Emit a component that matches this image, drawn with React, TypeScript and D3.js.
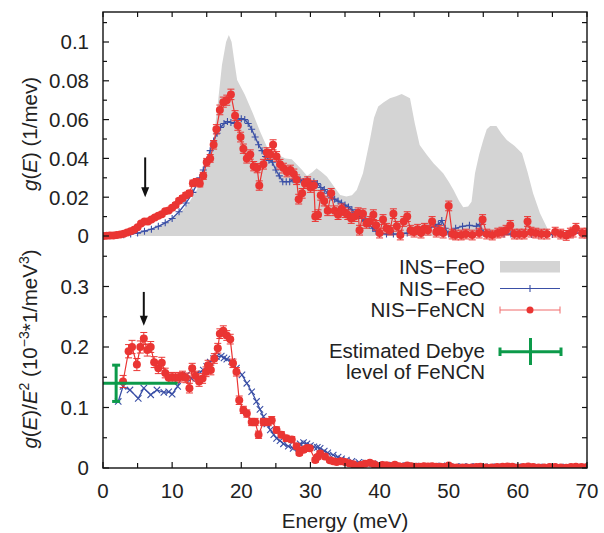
import React from "react";
import * as d3 from "d3";

// ---------- data ----------
// INS-FeO (gray area, top panel): [E, g]
const insFeO: [number, number][] = [
  [4.5, 0], [5.4, 0.0015], [6.8, 0.003], [8.2, 0.0048], [9.6, 0.008], [11.1, 0.0118], [12.4, 0.017],
  [13.55, 0.0237], [14.8, 0.035], [16.0, 0.05], [16.6, 0.068], [17.2, 0.088], [17.8, 0.1], [18.2, 0.1036],
  [18.6, 0.1], [19.0, 0.09], [19.4, 0.0804], [20.5, 0.073], [21.7, 0.063], [22.7, 0.054], [23.7, 0.046],
  [25.2, 0.042], [26.4, 0.04], [27.3, 0.0395], [28.0, 0.037], [28.8, 0.034], [29.5, 0.031], [30.3, 0.033],
  [30.9, 0.0349], [31.6, 0.033], [32.4, 0.0306], [33.3, 0.026], [34.3, 0.0211], [35.2, 0.0203],
  [36.0, 0.021], [36.7, 0.0237], [37.6, 0.0323], [38.6, 0.0495], [39.2, 0.061], [39.8, 0.0667],
  [40.6, 0.069], [41.5, 0.071], [42.4, 0.072], [43.2, 0.0732], [44.4, 0.071], [45.1, 0.058], [45.8, 0.0469],
  [46.8, 0.042], [47.8, 0.0375], [49.2, 0.0323], [50.0, 0.028], [50.7, 0.0237], [51.5, 0.018],
  [52.1, 0.0148], [52.8, 0.0152], [53.3, 0.0177], [53.8, 0.0323], [54.4, 0.042], [55.0, 0.0495],
  [55.5, 0.055], [56.0, 0.0567], [56.9, 0.0567], [57.6, 0.053], [58.4, 0.0495], [59.5, 0.0465],
  [60.6, 0.0426], [61.4, 0.033], [62.2, 0.022], [63.2, 0.0117], [64.4, 0.003], [65.2, 0],
];

// NIS-FeO (blue, top panel): [E, g]
const nisFeOTop: [number, number][] = [
  [0, 0], [1, 0.0001], [2, 0.0003], [3, 0.0006], [4, 0.001], [5, 0.0015], [6, 0.0025], [7, 0.0035],
  [8, 0.005], [9, 0.0068], [10, 0.009], [11, 0.0125], [12, 0.017], [13, 0.0225], [14, 0.03], [14.5, 0.034],
  [15, 0.039], [15.5, 0.044], [16, 0.049], [16.5, 0.053], [17, 0.056], [17.5, 0.058], [18, 0.059],
  [18.5, 0.0585], [19, 0.058], [19.5, 0.0595], [20, 0.0605], [20.5, 0.06], [21, 0.058], [21.5, 0.055],
  [22, 0.051], [22.5, 0.047], [23, 0.044], [23.5, 0.041], [24, 0.039], [24.5, 0.038], [25, 0.034],
  [25.5, 0.031], [26, 0.028], [26.5, 0.028], [27, 0.028], [27.5, 0.029], [28, 0.03], [28.5, 0.029],
  [29, 0.028], [29.5, 0.029], [30, 0.028], [30.5, 0.028], [31, 0.027], [31.5, 0.025], [32, 0.024],
  [32.5, 0.022], [33, 0.02], [33.5, 0.019], [34, 0.018], [34.5, 0.017], [35, 0.016], [35.5, 0.015],
  [36, 0.0135], [36.5, 0.012], [37, 0.0105], [37.5, 0.009], [38, 0.008], [38.5, 0.006], [39, 0.004],
  [39.5, 0.0025], [40, 0.0015], [41, 0.001], [42, 0.001], [43, 0.001], [44, 0.0015], [45, 0.002],
  [46, 0.003], [47, 0.004], [48, 0.005], [48.5, 0.006], [49, 0.008], [49.5, 0.004], [50, 0.001],
  [51, 0.004], [52, 0.005], [53, 0.0055], [54, 0.005], [54.5, 0.006], [55, 0.0015], [56, 0.001],
  [57, 0.0015], [58, 0.001], [59, 0.001], [60, 0.001], [61, 0.0008], [62, 0.0008], [63, 0.001],
  [64, 0.0008], [65, 0.0008], [66, 0.001], [67, 0.001], [68, 0.0015], [69, 0.0015], [70, 0.0015],
];

// NIS-FeNCN (red, top panel): [E, g, error]
const nisFeNCNTop: [number, number, number][] = [
  [0, 0, 0.0004], [0.5, 0.0001, 0.0004], [1, 0.0002, 0.0004], [1.5, 0.0003, 0.0004], [2, 0.0005, 0.0004],
  [2.5, 0.0008, 0.0004], [3, 0.0012, 0.0005], [3.5, 0.0018, 0.0005], [4, 0.0025, 0.0005],
  [4.5, 0.0032, 0.0006], [5, 0.0045, 0.0006], [5.5, 0.0065, 0.0007], [6, 0.0075, 0.0008],
  [6.5, 0.0075, 0.0008], [7, 0.0085, 0.0009], [7.5, 0.0095, 0.0009], [8, 0.0105, 0.001],
  [8.5, 0.0112, 0.001], [9, 0.0128, 0.001], [9.5, 0.0132, 0.001], [10, 0.0145, 0.0011],
  [10.5, 0.016, 0.0012], [11, 0.0182, 0.0012], [11.5, 0.0195, 0.0013], [12, 0.021, 0.0014],
  [12.5, 0.022, 0.0015], [13, 0.0272, 0.0016], [13.5, 0.028, 0.0016], [14, 0.027, 0.0017],
  [14.5, 0.031, 0.0018], [15, 0.038, 0.002], [15.5, 0.04, 0.002], [16, 0.047, 0.0022],
  [16.4, 0.055, 0.0024], [16.9, 0.065, 0.0025], [17.4, 0.069, 0.0026], [17.9, 0.07, 0.0026],
  [18.5, 0.073, 0.0027], [19.1, 0.062, 0.0026], [19.5, 0.057, 0.0025], [19.9, 0.051, 0.0025],
  [20.3, 0.045, 0.0024], [20.8, 0.04, 0.0024], [21.3, 0.042, 0.0024], [21.8, 0.036, 0.0024],
  [22.3, 0.035, 0.0024], [22.6, 0.026, 0.0024], [23.2, 0.037, 0.0025], [23.7, 0.043, 0.0025],
  [24.2, 0.042, 0.0025], [24.6, 0.047, 0.0026], [25.1, 0.041, 0.0025], [25.6, 0.037, 0.0025],
  [26.1, 0.035, 0.0025], [26.6, 0.033, 0.0025], [27.1, 0.034, 0.0025], [27.6, 0.032, 0.0025],
  [28.0, 0.029, 0.0025], [28.3, 0.019, 0.0025], [28.8, 0.022, 0.0025], [29.2, 0.027, 0.0025],
  [29.6, 0.028, 0.0025], [30.0, 0.025, 0.0025], [30.5, 0.026, 0.0025], [30.7, 0.01, 0.0025],
  [31.1, 0.011, 0.0025], [31.5, 0.021, 0.0025], [32.0, 0.018, 0.0025], [32.5, 0.013, 0.0025],
  [33.0, 0.022, 0.0025], [33.5, 0.013, 0.0025], [34.0, 0.011, 0.0025], [34.5, 0.014, 0.0025],
  [35.0, 0.012, 0.0025], [35.4, 0.011, 0.0025], [35.9, 0.009, 0.0025], [36.4, 0.01, 0.0025],
  [36.9, 0.012, 0.0025], [37.1, 0.003, 0.0025], [37.6, 0.0115, 0.0025], [38.1, 0.0065, 0.0025],
  [38.6, 0.0075, 0.0025], [39.1, 0.011, 0.0025], [39.5, 0.0055, 0.0025], [40.0, 0.0015, 0.0025],
  [40.5, 0.0085, 0.0025], [41.0, 0.004, 0.0025], [41.5, 0.003, 0.0025], [42.0, 0.0115, 0.0025],
  [42.5, 0.005, 0.0025], [43.0, 0.0005, 0.0025], [43.5, 0.0075, 0.0025], [44.0, 0.01, 0.0025],
  [44.5, 0.003, 0.0025], [45.0, 0.002, 0.0025], [45.5, 0.0035, 0.0025], [46.0, 0.0015, 0.0025],
  [46.5, 0.004, 0.0025], [47.0, 0.003, 0.0025], [47.6, 0.0075, 0.0025], [48.2, 0.002, 0.0025],
  [48.7, 0.003, 0.0025], [49.2, 0.0015, 0.0025], [50.0, 0.0155, 0.0025], [50.5, 0.001, 0.0025],
  [51.0, 0.0005, 0.0025], [51.8, 0.0005, 0.0025], [52.5, 0.001, 0.0025], [53.4, 0.0005, 0.0025],
  [54.4, 0.0015, 0.0025], [54.9, 0.0085, 0.0025], [55.5, 0.001, 0.0025], [56.3, 0.0005, 0.0025],
  [57.1, 0.0015, 0.0025], [57.7, 0.002, 0.0025], [58.3, 0.003, 0.0025], [58.9, 0.0055, 0.0025],
  [59.5, 0.001, 0.0025], [60.2, 0.001, 0.0025], [60.9, 0.001, 0.0025], [61.4, 0.0075, 0.0025],
  [61.9, 0.002, 0.0025], [62.6, 0.0015, 0.0025], [63.4, 0.001, 0.0025], [64.2, 0.001, 0.0025],
  [65.4, 0.002, 0.0025], [66.2, 0.001, 0.0025], [67.0, 0.0003, 0.0025], [67.6, 0.0015, 0.0025],
  [68.0, 0.002, 0.0025], [68.4, 0.004, 0.0025], [69.3, 0.0015, 0.0025], [70.0, 0.0015, 0.0025],
];

// NIS-FeO (blue, bottom panel g/E^2): [E, value]
const nisFeOBot: [number, number][] = [
  [2.2, 0.11], [2.9, 0.135], [3.9, 0.129], [5.1, 0.115], [5.9, 0.132], [6.9, 0.121], [7.8, 0.129],
  [8.8, 0.125], [9.5, 0.126], [10.0, 0.122], [10.8, 0.135], [11.4, 0.151], [12.1, 0.154], [12.8, 0.148],
  [13.5, 0.156], [14.5, 0.162], [15.0, 0.168], [15.5, 0.175], [16.0, 0.181], [16.4, 0.184], [17.1, 0.185],
  [17.5, 0.182], [17.9, 0.18], [18.6, 0.176], [19.3, 0.165], [20.1, 0.154], [20.8, 0.14], [21.5, 0.126],
  [22.2, 0.11], [22.7, 0.097], [23.2, 0.085], [23.7, 0.073], [24.2, 0.063], [24.7, 0.055], [25.1, 0.049],
  [25.6, 0.045], [26.1, 0.04], [26.8, 0.036], [27.5, 0.0325], [28.0, 0.035], [28.5, 0.04], [29.0, 0.042],
  [29.5, 0.04], [30.0, 0.037], [30.5, 0.035], [31.0, 0.034], [31.4, 0.0325], [32.0, 0.028], [32.5, 0.025],
  [33.3, 0.0215], [34.0, 0.018], [34.5, 0.015], [35.2, 0.013], [36.0, 0.011], [37.0, 0.0095],
  [38.0, 0.0085], [39.0, 0.007], [40.0, 0.006], [41.0, 0.005], [42.0, 0.0045], [43.0, 0.004],
  [44.0, 0.0035], [45.0, 0.003], [46.0, 0.003], [47.0, 0.0028], [48.0, 0.0028], [49.0, 0.0035],
  [50.0, 0.0025], [51.0, 0.0025], [52.0, 0.0025], [53.0, 0.0025], [54.0, 0.0025], [55.0, 0.002],
  [56.0, 0.002], [57.0, 0.002], [58.0, 0.002], [59.0, 0.0018], [60.0, 0.0018], [61.0, 0.0018],
  [62.0, 0.0015], [63.0, 0.0015], [64.0, 0.0015], [65.0, 0.0015], [66.0, 0.0015], [67.0, 0.0015],
  [68.0, 0.0015], [69.0, 0.0015], [70.0, 0.0015],
];

// NIS-FeNCN (red, bottom panel g/E^2): [E, value, error]
const nisFeNCNBot: [number, number, number][] = [
  [2.9, 0.143, 0.01], [3.7, 0.193, 0.011], [4.2, 0.2, 0.011], [4.9, 0.171, 0.01], [5.4, 0.2, 0.01],
  [5.9, 0.214, 0.01], [6.4, 0.195, 0.01], [6.9, 0.2, 0.009], [7.4, 0.175, 0.009], [8.0, 0.165, 0.009],
  [8.5, 0.174, 0.009], [9.0, 0.157, 0.008], [9.5, 0.149, 0.008], [10.0, 0.15, 0.008], [10.5, 0.149, 0.008],
  [11.0, 0.15, 0.008], [11.5, 0.152, 0.008], [12.0, 0.149, 0.008], [12.5, 0.132, 0.008], [12.9, 0.165, 0.008],
  [13.4, 0.152, 0.008], [13.9, 0.143, 0.008], [14.4, 0.148, 0.008], [14.9, 0.159, 0.008], [15.2, 0.17, 0.008],
  [15.6, 0.162, 0.008], [16.1, 0.181, 0.008], [16.6, 0.198, 0.008], [16.9, 0.222, 0.008], [17.4, 0.227, 0.008],
  [17.9, 0.219, 0.008], [18.4, 0.213, 0.008], [18.8, 0.173, 0.007], [19.3, 0.159, 0.007], [19.7, 0.112, 0.007],
  [20.3, 0.096, 0.006], [20.8, 0.09, 0.006], [21.5, 0.076, 0.006], [22.0, 0.076, 0.006], [22.5, 0.055, 0.006],
  [23.2, 0.076, 0.006], [23.9, 0.076, 0.006], [24.4, 0.079, 0.006], [25.1, 0.063, 0.005], [25.8, 0.055, 0.005],
  [26.5, 0.049, 0.005], [27.3, 0.047, 0.005], [28.0, 0.036, 0.004], [28.4, 0.025, 0.004], [29.0, 0.03, 0.004],
  [29.5, 0.033, 0.004], [29.9, 0.0325, 0.004], [30.7, 0.0132, 0.004], [31.0, 0.018, 0.004], [31.4, 0.024, 0.004],
  [32.1, 0.019, 0.004], [32.8, 0.013, 0.003], [33.3, 0.011, 0.003], [33.8, 0.01, 0.003], [34.4, 0.011, 0.003],
  [35.0, 0.01, 0.003], [35.6, 0.008, 0.003], [36.2, 0.006, 0.003], [36.7, 0.0025, 0.003], [37.3, 0.005, 0.003],
  [37.9, 0.007, 0.003], [38.6, 0.0085, 0.003], [39.2, 0.006, 0.003], [39.8, 0.003, 0.003], [40.4, 0.005, 0.003],
  [41.0, 0.0045, 0.003], [41.6, 0.003, 0.003], [42.2, 0.0055, 0.003], [42.8, 0.003, 0.003], [43.4, 0.002, 0.003],
  [44.0, 0.004, 0.003], [44.6, 0.003, 0.003], [45.2, 0.002, 0.003], [45.8, 0.002, 0.003], [46.4, 0.003, 0.003],
  [47.0, 0.0025, 0.003], [47.6, 0.003, 0.003], [48.2, 0.002, 0.003], [48.8, 0.002, 0.003], [49.4, 0.0015, 0.003],
  [50.0, 0.004, 0.003], [50.6, 0.001, 0.003], [51.2, 0.001, 0.003], [52.0, 0.001, 0.003], [52.6, 0.001, 0.003],
  [53.3, 0.001, 0.003], [54.0, 0.0015, 0.003], [54.6, 0.002, 0.003], [55.4, 0.001, 0.003], [56.2, 0.001, 0.003],
  [57.0, 0.0015, 0.003], [57.8, 0.002, 0.003], [58.5, 0.0025, 0.003], [59.2, 0.002, 0.003], [60.0, 0.001, 0.003],
  [60.8, 0.0015, 0.003], [61.5, 0.0025, 0.003], [62.2, 0.0015, 0.003], [63.0, 0.001, 0.003], [63.8, 0.001, 0.003],
  [64.6, 0.0015, 0.003], [65.4, 0.0015, 0.003], [66.2, 0.001, 0.003], [67.0, 0.0005, 0.003], [67.7, 0.0015, 0.003],
  [68.4, 0.002, 0.003], [69.2, 0.0015, 0.003], [70.0, 0.0015, 0.003],
];

// Estimated Debye level of FeNCN
const debyeE = 1.9;
const debyeLevel = 0.14;
const debyeErr = 0.03;
const debyeSpan: [number, number] = [0, 10.8];

// arrows: [E, from, to]
const topArrow: [number, number, number] = [6.1, 0.0405, 0.02];
const botArrow: [number, number, number] = [5.9, 0.291, 0.235];

// ticks
const xTickLabels = [0, 10, 20, 30, 40, 50, 60, 70];
const xMinorTicks = [5, 15, 25, 35, 45, 55, 65];
const topYLabels = [0, 0.02, 0.04, 0.06, 0.08, 0.1];
const topYMinor = [0.01, 0.03, 0.05, 0.07, 0.09, 0.11];
const botYLabels = [0, 0.1, 0.2, 0.3];
const botYMinor = [0.05, 0.15, 0.25, 0.35];

const legendItems = ["INS−FeO", "NIS−FeO", "NIS−FeNCN"];

// ---------- style ----------
const BLUE = "#3a4fa6";
const RED = "#ea3533";
const GRAY = "#d4d4d4";
const GREEN = "#0c9a4a";
const INK = "#222";
const FONT = "'Liberation Sans', Arial, Helvetica, sans-serif";
const FS = 20.5;

export default function App() {
  const L = 103, R = 587, T = 12, B = 468;
  const x = d3.scaleLinear().domain([0, 70]).range([L, R]);
  const yT = d3.scaleLinear().domain([0, 0.1]).range([236, 42]);
  const yB = d3.scaleLinear().domain([0, 0.1]).range([468, 407.5]);

  const area = d3.area<[number, number]>().x((d) => x(d[0])).y0(yT(0)).y1((d) => yT(d[1]));
  const lineT = d3.line<any>().x((d) => x(d[0])).y((d) => yT(d[1]));
  const lineB = d3.line<any>().x((d) => x(d[0])).y((d) => yB(d[1]));

  const fmt = (v: number) => (v === 0 ? "0" : String(+v.toFixed(2)));

  const redPoints = (data: [number, number, number][], y: (v: number) => number, key: string) =>
    data.map((d, i) => {
      const cx = x(d[0]);
      const y1 = y(d[1] + d[2]);
      const y0 = y(d[1] - d[2]);
      return (
        <g key={key + i}>
          <line x1={cx} x2={cx} y1={y1} y2={y0} stroke={RED} strokeWidth={1} />
          <line x1={cx - 3.5} x2={cx + 3.5} y1={y1} y2={y1} stroke={RED} strokeWidth={1} />
          <line x1={cx - 3.5} x2={cx + 3.5} y1={y0} y2={y0} stroke={RED} strokeWidth={1} />
          <circle cx={cx} cy={y(d[1])} r={4} fill={RED} />
        </g>
      );
    });

  const arrow = (a: [number, number, number], y: (v: number) => number) => {
    const ax = x(a[0]);
    const y0 = y(a[1]);
    const y1 = y(a[2]);
    return (
      <g>
        <line x1={ax} x2={ax} y1={y0} y2={y1 - 6} stroke="#111" strokeWidth={2} />
        <path d={`M${ax - 4},${y1 - 10}L${ax},${y1}L${ax + 4},${y1 - 10}Z`} fill="#111" />
      </g>
    );
  };

  const textStyle = { fontFamily: FONT, fontSize: FS, fill: INK } as const;

  return (
    <svg width={604} height={533} style={{ position: "absolute", left: 0, top: 0, background: "#fff" }}>
      <defs>
        <clipPath id="plotclip">
          <rect x={L} y={T} width={R - L} height={B - T} />
        </clipPath>
      </defs>
      <rect x={0} y={0} width={604} height={533} fill="#fff" />

      <g clipPath="url(#plotclip)">
        {/* top panel */}
        <path d={area(insFeO) || ""} fill={GRAY} />
        <path d={lineT(nisFeOTop) || ""} fill="none" stroke={BLUE} strokeWidth={1.3} />
        {nisFeOTop.map((d, i) => (
          <path key={"bt" + i} transform={`translate(${x(d[0])},${yT(d[1])})`} d="M-3.5,0H3.5M0,-3.5V3.5" stroke={BLUE} strokeWidth={1.1} />
        ))}
        <path d={lineT(nisFeNCNTop) || ""} fill="none" stroke={RED} strokeWidth={1.2} />
        {redPoints(nisFeNCNTop, yT, "rt")}
        {arrow(topArrow, yT)}

        {/* bottom panel */}
        <path d={lineB(nisFeOBot) || ""} fill="none" stroke={BLUE} strokeWidth={1.3} />
        {nisFeOBot.map((d, i) => (
          <path key={"bb" + i} transform={`translate(${x(d[0])},${yB(d[1])})`} d="M-3.2,-3.2L3.2,3.2M-3.2,3.2L3.2,-3.2" stroke={BLUE} strokeWidth={1.1} />
        ))}
        <path d={lineB(nisFeNCNBot) || ""} fill="none" stroke={RED} strokeWidth={1.2} />
        {redPoints(nisFeNCNBot, yB, "rb")}
        {/* Debye level */}
        <line x1={x(debyeSpan[0])} x2={x(debyeSpan[1])} y1={yB(debyeLevel)} y2={yB(debyeLevel)} stroke={GREEN} strokeWidth={3} />
        <line x1={x(debyeE)} x2={x(debyeE)} y1={yB(debyeLevel + debyeErr)} y2={yB(debyeLevel - debyeErr)} stroke={GREEN} strokeWidth={3} />
        <line x1={x(debyeE) - 4} x2={x(debyeE) + 4} y1={yB(debyeLevel + debyeErr)} y2={yB(debyeLevel + debyeErr)} stroke={GREEN} strokeWidth={3} />
        <line x1={x(debyeE) - 4} x2={x(debyeE) + 4} y1={yB(debyeLevel - debyeErr)} y2={yB(debyeLevel - debyeErr)} stroke={GREEN} strokeWidth={3} />
        {arrow(botArrow, yB)}
      </g>

      {/* frame */}
      <rect x={L} y={T} width={R - L} height={B - T} fill="none" stroke="#111" strokeWidth={1.4} />

      {/* x ticks bottom and top */}
      {xTickLabels.map((v) => (
        <g key={"xt" + v}>
          <line x1={x(v)} x2={x(v)} y1={B} y2={B - 6} stroke="#111" strokeWidth={1.2} />
          <line x1={x(v)} x2={x(v)} y1={T} y2={T + 5} stroke="#111" strokeWidth={1.2} />
          <text x={x(v)} y={498} textAnchor="middle" style={textStyle}>{v}</text>
        </g>
      ))}
      {xMinorTicks.map((v) => (
        <g key={"xm" + v}>
          <line x1={x(v)} x2={x(v)} y1={B} y2={B - 5} stroke="#111" strokeWidth={1.2} />
          <line x1={x(v)} x2={x(v)} y1={T} y2={T + 5} stroke="#111" strokeWidth={1.2} />
        </g>
      ))}

      {/* top y ticks */}
      {topYLabels.map((v) => (
        <g key={"ty" + v}>
          <line x1={L} x2={L + 6} y1={yT(v)} y2={yT(v)} stroke="#111" strokeWidth={1.2} />
          <line x1={R} x2={R - 5} y1={yT(v)} y2={yT(v)} stroke="#111" strokeWidth={1.2} />
          <text x={89} y={yT(v) + 7.3} textAnchor="end" style={textStyle}>{fmt(v)}</text>
        </g>
      ))}
      {topYMinor.map((v) => (
        <g key={"tym" + v}>
          <line x1={L} x2={L + 4} y1={yT(v)} y2={yT(v)} stroke="#111" strokeWidth={1.2} />
          <line x1={R} x2={R - 5} y1={yT(v)} y2={yT(v)} stroke="#111" strokeWidth={1.2} />
        </g>
      ))}

      {/* bottom y ticks */}
      {botYLabels.map((v) => (
        <g key={"by" + v}>
          <line x1={L} x2={L + 6} y1={yB(v)} y2={yB(v)} stroke="#111" strokeWidth={1.2} />
          <line x1={R} x2={R - 5} y1={yB(v)} y2={yB(v)} stroke="#111" strokeWidth={1.2} />
          <text x={89} y={yB(v) + 7.3} textAnchor="end" style={textStyle}>{fmt(v)}</text>
        </g>
      ))}
      {botYMinor.map((v) => (
        <g key={"bym" + v}>
          <line x1={L} x2={L + 4} y1={yB(v)} y2={yB(v)} stroke="#111" strokeWidth={1.2} />
          <line x1={R} x2={R - 5} y1={yB(v)} y2={yB(v)} stroke="#111" strokeWidth={1.2} />
        </g>
      ))}

      {/* axis titles */}
      <text transform="translate(37,134) rotate(-90)" textAnchor="middle" style={textStyle}>
        <tspan fontStyle="italic">g</tspan>(<tspan fontStyle="italic">E</tspan>) (1/mev)
      </text>
      <text transform="translate(37,349) rotate(-90)" textAnchor="middle" style={textStyle}>
        <tspan fontStyle="italic">g</tspan>(<tspan fontStyle="italic">E</tspan>)/<tspan fontStyle="italic">E</tspan>
        <tspan dy={-8} fontSize={14}>2</tspan>
        <tspan dy={8}> (10</tspan>
        <tspan dy={-8} fontSize={14}>−3</tspan>
        <tspan dy={8}>*1/meV</tspan>
        <tspan dy={-8} fontSize={14}>3</tspan>
        <tspan dy={8}>)</tspan>
      </text>
      <text x={345} y={528} textAnchor="middle" style={textStyle}>Energy (meV)</text>

      {/* legend */}
      <text x={485} y={274.3} textAnchor="end" style={textStyle}>{legendItems[0]}</text>
      <text x={485} y={295.7} textAnchor="end" style={textStyle}>{legendItems[1]}</text>
      <text x={485} y={317.3} textAnchor="end" style={textStyle}>{legendItems[2]}</text>
      <text x={485} y={358.3} textAnchor="end" style={textStyle}>Estimated Debye</text>
      <text x={485} y={379.3} textAnchor="end" style={textStyle}>level of FeNCN</text>

      <rect x={500} y={261} width={60} height={11.5} fill={GRAY} />
      <line x1={500} x2={560} y1={288.5} y2={288.5} stroke={BLUE} strokeWidth={1.2} />
      <line x1={530} x2={530} y1={285} y2={292} stroke={BLUE} strokeWidth={1.1} />
      <line x1={500} x2={560} y1={310} y2={310} stroke="#f06a6a" strokeWidth={1} />
      <line x1={500} x2={500} y1={306.5} y2={313.5} stroke="#f06a6a" strokeWidth={1} />
      <line x1={560} x2={560} y1={306.5} y2={313.5} stroke="#f06a6a" strokeWidth={1} />
      <circle cx={530} cy={310} r={3.5} fill={RED} />
      <line x1={500} x2={561} y1={351.7} y2={351.7} stroke={GREEN} strokeWidth={3} />
      <line x1={500} x2={500} y1={347.5} y2={356} stroke={GREEN} strokeWidth={3} />
      <line x1={561} x2={561} y1={347.5} y2={356} stroke={GREEN} strokeWidth={3} />
      <line x1={530.5} x2={530.5} y1={338} y2={365} stroke={GREEN} strokeWidth={3} />
    </svg>
  );
}
